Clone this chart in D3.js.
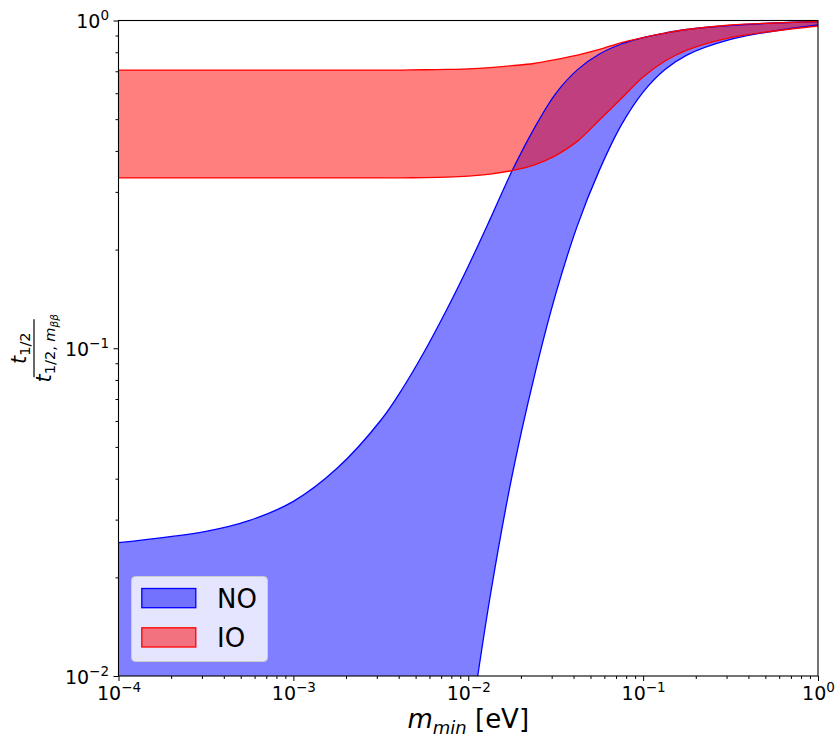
<!DOCTYPE html>
<html><head><meta charset="utf-8">
<script src="https://cdn.jsdelivr.net/npm/d3@7"></script>
<style>
body{margin:0;background:#fff}
text{font-family:"DejaVu Sans",sans-serif;fill:#000}
</style>
</head><body>
<svg id="c" width="838" height="738"></svg>
<script>
// ---- data ----
const mMin    = [0.0001, 0.0003162, 0.0005623, 0.001, 0.001778, 0.003162, 0.004217, 0.005623, 0.007499, 0.01, 0.01334, 0.01778, 0.02371, 0.03162, 0.04217, 0.05623, 0.07499, 0.1, 0.1334, 0.1778, 0.3162, 0.5623, 1.0];
const noUpper = [0.02551, 0.02762, 0.02984, 0.03410, 0.04302, 0.06030, 0.07549, 0.09791, 0.1306, 0.1780, 0.2477, 0.3472, 0.4664, 0.5986, 0.7081, 0.7900, 0.8478, 0.8873, 0.9158, 0.9387, 0.9654, 0.9826, 0.9930];
const noLower = [null, null, null, null, null, null, null, null, null, 0.006355, 0.01748, 0.04066, 0.08098, 0.1462, 0.2375, 0.3495, 0.4797, 0.6049, 0.7086, 0.7845, 0.8756, 0.9289, 0.9689];
const ioUpper = [0.7061, 0.7061, 0.7061, 0.7061, 0.7061, 0.7061, 0.7061, 0.7075, 0.7090, 0.7120, 0.7185, 0.7278, 0.7392, 0.7602, 0.7845, 0.8157, 0.8567, 0.8873, 0.9158, 0.9387, 0.9689, 0.9826, 0.9930];
const ioLower = [0.3309, 0.3309, 0.3309, 0.3309, 0.3309, 0.3309, 0.3311, 0.3316, 0.3327, 0.3351, 0.3399, 0.3483, 0.3621, 0.3871, 0.4285, 0.4969, 0.5779, 0.6721, 0.7522, 0.8127, 0.8873, 0.9289, 0.9620];
const xMajor = [1e-4, 1e-3, 1e-2, 1e-1, 1];
const xMajorExp = ["−4", "−3", "−2", "−1", "0"];
const yMajor = [1e-2, 1e-1, 1];
const yMajorExp = ["−2", "−1", "0"];
const legendItems = ["NO", "IO"];

// ---- layout ----
const L = 118.5, R = 818, T = 20.5, B = 676;
const svg = d3.select("#c");
const x = d3.scaleLog().domain([1e-4, 1]).range([L, R]);
const y = d3.scaleLog().domain([1e-2, 1]).range([B, T]);

svg.append("defs").append("clipPath").attr("id", "clip")
  .append("rect").attr("x", L).attr("y", T).attr("width", R - L).attr("height", B - T);

const pts = mMin.map((m, i) => ({m, nu: noUpper[i], nl: noLower[i], iu: ioUpper[i], il: ioLower[i]}));
const curve = d3.curveCatmullRom.alpha(0.5);
const plot = svg.append("g").attr("clip-path", "url(#clip)");

// NO band
const upLine = d3.line().x(d => x(d.m)).y(d => y(d.nu)).curve(curve);
const lowPts = pts.filter(d => d.nl != null);
const lowLine = d3.line().x(d => x(d.m)).y(d => y(d.nl)).curve(curve);
const lowRev = lowLine(lowPts.slice().reverse());
const noPath = upLine(pts) + "L" + lowRev.slice(1) + `L${x(mMin[0])},${B + 80}Z`;
plot.append("path").attr("d", noPath).attr("fill", "blue").attr("fill-opacity", 0.5);

// IO band
const ioArea = d3.area().x(d => x(d.m)).y0(d => y(d.il)).y1(d => y(d.iu)).curve(curve);
plot.append("path").attr("d", ioArea(pts)).attr("fill", "red").attr("fill-opacity", 0.5);

// edges
plot.append("path").attr("d", upLine(pts)).attr("fill", "none").attr("stroke", "blue").attr("stroke-width", 1.3);
plot.append("path").attr("d", lowLine(lowPts)).attr("fill", "none").attr("stroke", "blue").attr("stroke-width", 1.3);
plot.append("path").attr("d", d3.line().x(d => x(d.m)).y(d => y(d.iu)).curve(curve)(pts)).attr("fill", "none").attr("stroke", "red").attr("stroke-width", 1.3);
plot.append("path").attr("d", d3.line().x(d => x(d.m)).y(d => y(d.il)).curve(curve)(pts)).attr("fill", "none").attr("stroke", "red").attr("stroke-width", 1.3);

// ---- axes ----
const xMinor = [], yMinor = [];
[1e-4, 1e-3, 1e-2, 1e-1].forEach(d => { for (let k = 2; k <= 9; k++) xMinor.push(d * k); });
[1e-2, 1e-1].forEach(d => { for (let k = 2; k <= 9; k++) yMinor.push(d * k); });

function styleAxis(g) {
  g.select(".domain").remove();
  g.selectAll(".tick line").attr("stroke", "#000").attr("stroke-width", 1);
}
svg.append("g").attr("transform", `translate(0,${B})`)
  .call(d3.axisBottom(x).tickValues(xMinor).tickSize(3).tickFormat("")).call(styleAxis);
const gx = svg.append("g").attr("transform", `translate(0,${B})`)
  .call(d3.axisBottom(x).tickValues(xMajor).tickSize(5).tickFormat("")).call(styleAxis);
svg.append("g").attr("transform", `translate(${L},0)`)
  .call(d3.axisLeft(y).tickValues(yMinor).tickSize(3).tickFormat("")).call(styleAxis);
const gy = svg.append("g").attr("transform", `translate(${L},0)`)
  .call(d3.axisLeft(y).tickValues(yMajor).tickSize(5).tickFormat("")).call(styleAxis);

gx.selectAll(".tick").each(function(d, i) {
  const t = d3.select(this).append("text").attr("y", 24).attr("text-anchor", "middle")
    .attr("font-size", 19).attr("fill", "#000");
  t.append("tspan").text("10");
  t.append("tspan").attr("font-size", 13.5).attr("dy", -8).text(xMajorExp[i]);
});
gy.selectAll(".tick").each(function(d, i) {
  const t = d3.select(this).append("text").attr("x", -9.5).attr("y", 7).attr("text-anchor", "end")
    .attr("font-size", 19).attr("fill", "#000");
  t.append("tspan").text("10");
  t.append("tspan").attr("font-size", 13.5).attr("dy", -8).text(yMajorExp[i]);
});

// frame
svg.append("rect").attr("x", L).attr("y", T).attr("width", R - L).attr("height", B - T)
  .attr("fill", "none").attr("stroke", "#000").attr("stroke-width", 1.1);

// ---- labels ----
const xl = svg.append("text").attr("x", (L + R) / 2).attr("y", 728).attr("text-anchor", "middle").attr("font-size", 26);
xl.append("tspan").attr("font-style", "italic").text("m");
xl.append("tspan").attr("font-style", "italic").attr("font-size", 18).attr("dy", 6).text("min");
xl.append("tspan").attr("dy", -6).text(" [eV]");

const yl = svg.append("g").attr("transform", `translate(34,${(T + B) / 2}) rotate(-90)`);
const num = yl.append("text").attr("x", 0).attr("y", -8).attr("text-anchor", "middle").attr("font-size", 21);
num.append("tspan").attr("font-style", "italic").text("t");
num.append("tspan").attr("font-size", 14.5).attr("dy", 4).text("1/2");
yl.append("line").attr("x1", -29).attr("x2", 29).attr("y1", 0).attr("y2", 0).attr("stroke", "#000").attr("stroke-width", 1.2);
const den = yl.append("text").attr("x", 0).attr("y", 17).attr("text-anchor", "middle").attr("font-size", 21);
den.append("tspan").attr("font-style", "italic").text("t");
den.append("tspan").attr("font-size", 14.5).attr("dy", 4).text("1/2, ");
den.append("tspan").attr("font-size", 14.5).attr("font-style", "italic").text("m");
den.append("tspan").attr("font-size", 10.5).attr("font-style", "italic").attr("dy", 3).text("ββ");

// ---- legend ----
const lg = svg.append("g");
lg.append("rect").attr("x", 131.5).attr("y", 576.5).attr("width", 136).attr("height", 85).attr("rx", 4)
  .attr("fill", "rgba(255,255,255,0.8)").attr("stroke", "#cccccc").attr("stroke-width", 1);
const legColors = ["blue", "red"];
legendItems.forEach((name, i) => {
  const yy = 588.5 + i * 39.3;
  lg.append("rect").attr("x", 141.8).attr("y", yy).attr("width", 54).attr("height", 19.2)
    .attr("fill", legColors[i]).attr("fill-opacity", 0.5).attr("stroke", legColors[i]).attr("stroke-width", 1.3);
  lg.append("text").attr("x", 217).attr("y", yy + 19).attr("font-size", 26).text(name);
});
</script>
</body></html>
